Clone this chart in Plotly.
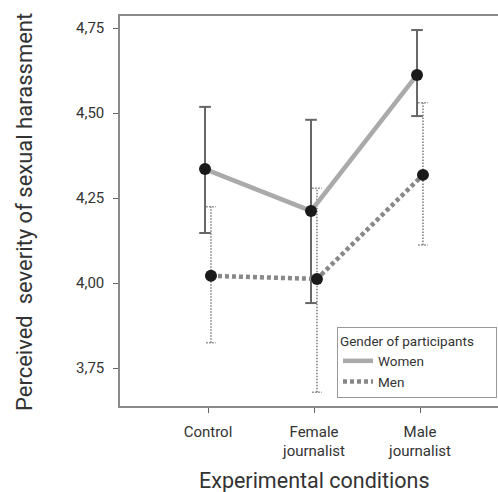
import plotly.graph_objects as go

categories = ["Control", "Female<br>journalist", "Male<br>journalist"]
women_mean = [4.335, 4.212, 4.612]
women_lo = [4.147, 3.941, 4.491]
women_hi = [4.518, 4.480, 4.744]
men_mean = [4.021, 4.012, 4.318]
men_lo = [3.824, 3.679, 4.112]
men_hi = [4.224, 4.279, 4.530]
ytick_vals = [3.75, 4.00, 4.25, 4.50, 4.75]
ytick_text = ["3,75", "4,00", "4,25", "4,50", "4,75"]

# figure drawn a bit wider than the window so the plot frame runs off the right edge
W, H = 520, 492
ML, MR, MT, MB = 120, 0, 16, 86
dodge = 0.028
x_idx = list(range(len(categories)))
xw = [i - dodge for i in x_idx]
xm = [i + dodge for i in x_idx]

font_family = "Roboto, DejaVu Sans, sans-serif"
txt = "#333333"


def err_path(xs, lo, hi, cap):
    px, py = [], []
    for x, l, h in zip(xs, lo, hi):
        px += [x, x, None, x - cap, x + cap, None, x - cap, x + cap, None]
        py += [l, h, None, h, h, None, l, l, None]
    return px, py


fig = go.Figure()

wx, wy = err_path(xw, women_lo, women_hi, 0.055)
fig.add_trace(go.Scatter(x=wx, y=wy, mode="lines", showlegend=False, hoverinfo="skip",
                         line=dict(color="#666666", width=2)))
mx, my = err_path(xm, men_lo, men_hi, 0.045)
fig.add_trace(go.Scatter(x=mx, y=my, mode="lines", showlegend=False, hoverinfo="skip",
                         line=dict(color="#7a7a7a", width=1.5, dash="1.5px,1.5px")))

fig.add_trace(go.Scatter(x=xw, y=women_mean, mode="lines", name="Women",
                         line=dict(color="#aaaaaa", width=4.5)))
fig.add_trace(go.Scatter(x=xm, y=men_mean, mode="lines", name="Men",
                         line=dict(color="#888888", width=4.5, dash="4px,3px")))

fig.add_trace(go.Scatter(x=xw + xm, y=women_mean + men_mean, mode="markers", showlegend=False,
                         marker=dict(color="#1a1a1a", size=12)))

x0 = (ML - 208) / 106
x1 = (W - MR - 208) / 106
y_lo = 4.75 - (406 - 28) / 340
y_hi = 4.75 + (28 - 16) / 340

fig.update_xaxes(range=[x0, x1], tickvals=x_idx, ticktext=categories,
                 showline=True, mirror=True, linecolor="#8a8a8a", linewidth=1.5,
                 ticks="outside", ticklen=5, tickcolor="#666666", tickwidth=1,
                 ticklabelstandoff=6,
                 showgrid=False, zeroline=False,
                 tickfont=dict(family=font_family, size=15, color=txt))
fig.update_yaxes(range=[y_lo, y_hi], tickvals=ytick_vals, ticktext=ytick_text,
                 showline=True, mirror=False, linecolor="#8a8a8a", linewidth=1.5,
                 ticks="outside", ticklen=5, tickcolor="#666666", tickwidth=1,
                 ticklabelstandoff=6,
                 showgrid=False, zeroline=False,
                 tickfont=dict(family=font_family, size=15, color=txt))

pw = W - ML - MR
ph = H - MT - MB
fig.add_annotation(text="Experimental conditions", xref="paper", yref="paper",
                   x=(314 - ML) / pw, y=-(480 - (H - MB)) / ph, showarrow=False,
                   xanchor="center", yanchor="middle",
                   font=dict(family=font_family, size=21.5, color=txt))
fig.add_annotation(text="Perceived  severity of sexual harassment", xref="paper", yref="paper",
                   x=(24 - ML) / pw, y=((H - MB) - 212) / ph, showarrow=False, textangle=-90,
                   xanchor="center", yanchor="middle",
                   font=dict(family=font_family, size=22, color=txt))

fig.update_layout(
    width=W, height=H,
    margin=dict(l=ML, r=MR, t=MT, b=MB),
    paper_bgcolor="white", plot_bgcolor="white",
    font=dict(family=font_family, color=txt),
    legend=dict(title=dict(text="Gender of participants" + "\u00a0" * 6,
                           font=dict(size=13.5, color=txt)),
                font=dict(size=13.5, color=txt),
                x=(337 - ML) / pw, y=(406 - 327) / ph, xanchor="left", yanchor="top",
                bordercolor="#999999", borderwidth=1, bgcolor="white",
                tracegroupgap=0, itemwidth=30),
)

fig.write_html(
    "out.html",
    config={"displayModeBar": False},
    post_script="var s=document.body.style;s.margin='0';s.padding='0';s.overflow='hidden';"
                "s.background='white';"
                "var h=document.documentElement.style;h.overflow='hidden';h.background='white';",
)
